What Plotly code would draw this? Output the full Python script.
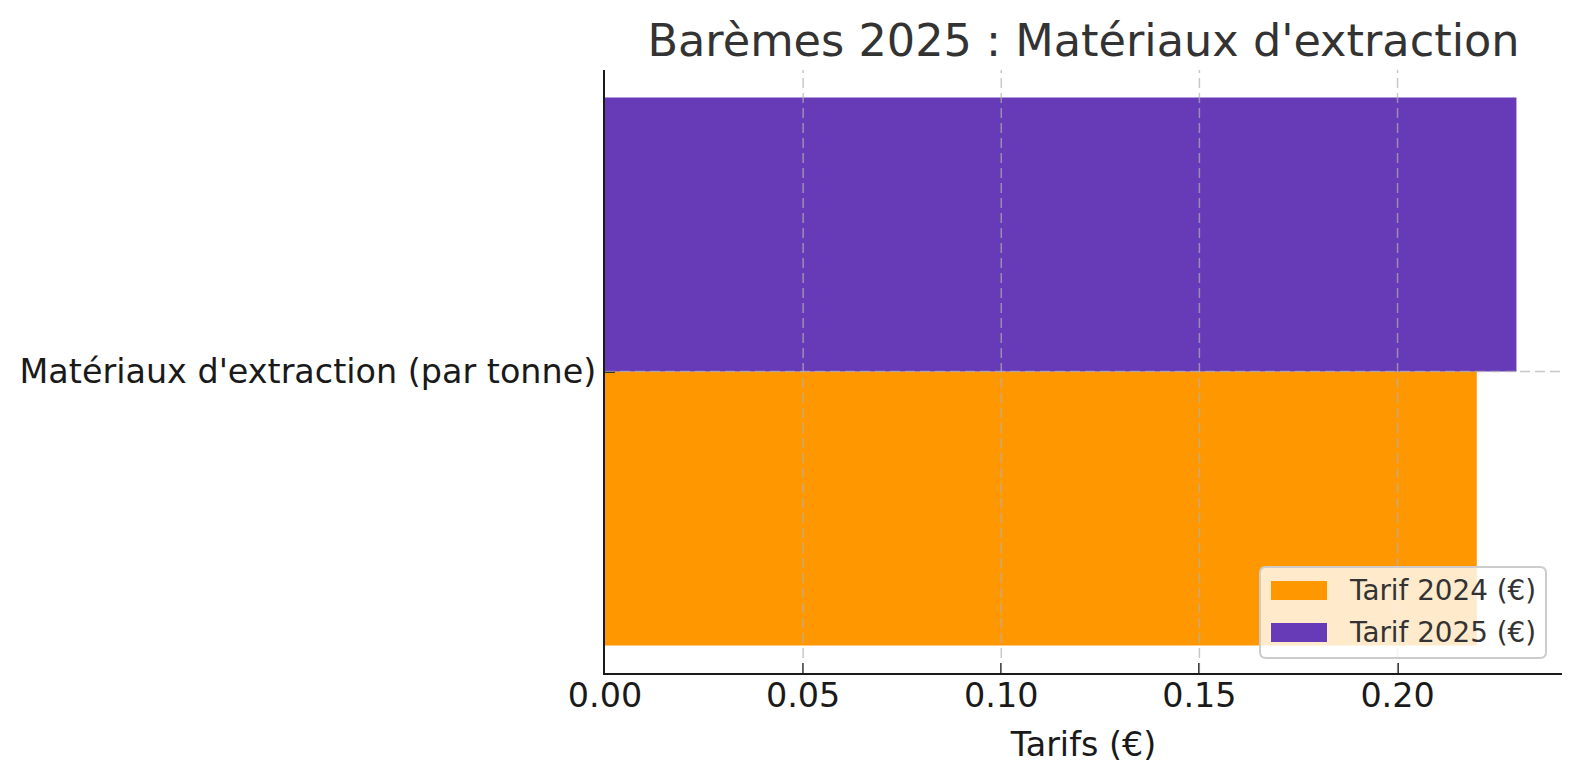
import plotly.graph_objects as go

# %%
# Chart values
categories = ["Matériaux d'extraction (par tonne)"]
tarif_2024 = [0.22]
tarif_2025 = [0.23]
series_names = ["Tarif 2024 (€)", "Tarif 2025 (€)"]
x_ticks = [0.00, 0.05, 0.10, 0.15, 0.20]
x_tick_labels = ["0.00", "0.05", "0.10", "0.15", "0.20"]

colors = ["#FF9800", "#673AB7"]
font = "DejaVu Sans"

# page geometry: the html body has an 8px default margin, so the figure
# is made smaller and all page positions below are shifted by OFF
W, H = 1580, 780
OFF = 8
L, R, T, B = 605, 1562, 70, 673  # plot area on the page


def px(x):
    return (x - L) / (R - L)


def py(y):
    return (B - y) / (B - T)


y_pos = list(range(len(categories)))

fig = go.Figure()
fig.add_trace(
    go.Bar(
        x=tarif_2024, y=y_pos, orientation="h", width=0.4, offset=-0.4,
        marker=dict(color=colors[0], line=dict(width=0)), name=series_names[0],
    )
)
fig.add_trace(
    go.Bar(
        x=tarif_2025, y=y_pos, orientation="h", width=0.4, offset=0.0,
        marker=dict(color=colors[1], line=dict(width=0)), name=series_names[1],
    )
)

# %%
# Dashed grid drawn above the bars
grid = dict(color="rgba(176,176,176,0.7)", width=1.5, dash="10px,5px")
shapes = []
for t in x_ticks[1:]:
    shapes.append(dict(type="line", xref="x", yref="paper", x0=t, x1=t, y0=0, y1=1,
                       line=grid, layer="above"))
for yp in y_pos:
    shapes.append(dict(type="line", xref="paper", yref="y", x0=0, x1=1, y0=yp, y1=yp,
                       line=grid, layer="above"))

# %%
# Legend box (rounded, semi-transparent) with patches
bx0, bx1, by0, by1, rad = 1260, 1546, 567, 658, 6
path = (
    f"M{px(bx0 + rad)},{py(by0)} L{px(bx1 - rad)},{py(by0)} "
    f"Q{px(bx1)},{py(by0)} {px(bx1)},{py(by0 + rad)} "
    f"L{px(bx1)},{py(by1 - rad)} Q{px(bx1)},{py(by1)} {px(bx1 - rad)},{py(by1)} "
    f"L{px(bx0 + rad)},{py(by1)} Q{px(bx0)},{py(by1)} {px(bx0)},{py(by1 - rad)} "
    f"L{px(bx0)},{py(by0 + rad)} Q{px(bx0)},{py(by0)} {px(bx0 + rad)},{py(by0)} Z"
)
shapes.append(dict(type="path", xref="paper", yref="paper", path=path,
                   fillcolor="rgba(255,255,255,0.8)",
                   line=dict(color="#cccccc", width=2), layer="above"))
annotations = []
for i, name in enumerate(series_names):
    cy = 590.5 + i * 42
    shapes.append(dict(type="rect", xref="paper", yref="paper",
                       x0=px(1271), x1=px(1327), y0=py(cy - 9.5), y1=py(cy + 9.5),
                       fillcolor=colors[i], line=dict(width=0), layer="above"))
    annotations.append(dict(text=name, xref="paper", yref="paper", x=px(1347), y=py(cy),
                            xanchor="left", yanchor="middle", showarrow=False,
                            font=dict(family=font, size=27.8, color="#333333")))

axis_common = dict(
    showline=True, linecolor="#1a1a1a", linewidth=2.2, showgrid=False, zeroline=False,
    ticks="inside", ticklen=10, tickwidth=2.2, tickcolor="#1a1a1a",
    tickfont=dict(family=font, size=33.4, color="#1a1a1a"), layer="above traces",
)

fig.update_xaxes(
    range=[0, max(tarif_2025 + tarif_2024) * 1.05], tickvals=x_ticks, ticktext=x_tick_labels,
    title=dict(text="Tarifs (€)", font=dict(family=font, size=33.4, color="#1a1a1a"), standoff=18),
    ticklabelstandoff=-8, **axis_common,
)
fig.update_yaxes(
    range=[-0.44, 0.44], tickvals=y_pos, ticktext=categories, ticklabelstandoff=0,
    **axis_common,
)
fig.update_layout(
    width=W - OFF, height=H - OFF, barmode="overlay", showlegend=False,
    plot_bgcolor="white", paper_bgcolor="white",
    margin=dict(l=L - OFF, r=W - R, t=T - OFF, b=H - B, autoexpand=False),
    title=dict(text="Barèmes 2025 : Matériaux d'extraction",
               x=((L + R) / 2 - OFF) / (W - OFF), xanchor="center",
               yref="container", y=1 - (40 - OFF) / (H - OFF), yanchor="middle",
               font=dict(family=font, size=44.6, color="#333333")),
    shapes=shapes, annotations=annotations,
)
fig.write_html("out.html")
